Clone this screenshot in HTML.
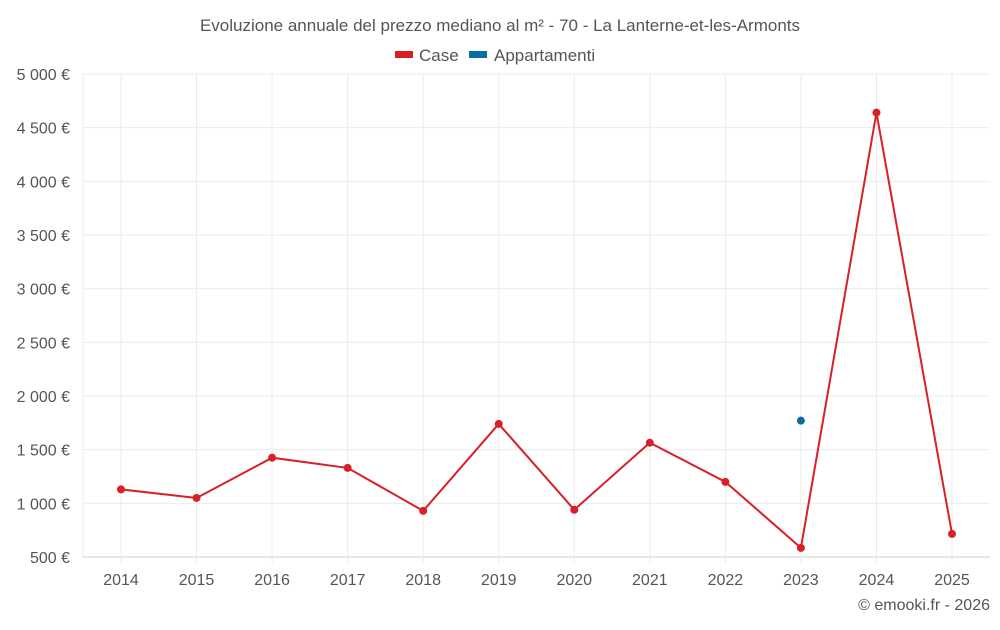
<!DOCTYPE html>
<html><head><meta charset="utf-8"><style>
body{margin:0;background:#fff;font-family:"Liberation Sans",sans-serif;}
svg text{font-family:"Liberation Sans",sans-serif;fill:#555;}
</style></head><body>
<svg id="c" width="1000" height="625">
<text x="500" y="31" text-anchor="middle" font-size="17">Evoluzione annuale del prezzo mediano al m² - 70 - La Lanterne-et-les-Armonts</text>
<g><rect x="395" y="51" width="18" height="7" fill="#d92027"/><text x="419" y="61" font-size="17">Case</text></g>
<g><rect x="469" y="51" width="18" height="7" fill="#0b6ba3"/><text x="494" y="61" font-size="17">Appartamenti</text></g>
<g id="grid"></g><g id="marks"></g>
<text x="990" y="610" text-anchor="end" font-size="16">© emooki.fr - 2026</text>
</svg>
<script>
const years=["2014","2015","2016","2017","2018","2019","2020","2021","2022","2023","2024","2025"];
const caseVals=[1130,1050,1425,1330,930,1740,940,1565,1200,585,4640,715];
const appVals=[null,null,null,null,null,null,null,null,null,1770,null,null];
const yTicks=[500,1000,1500,2000,2500,3000,3500,4000,4500,5000];
const yLabels=["500 €","1 000 €","1 500 €","2 000 €","2 500 €","3 000 €","3 500 €","4 000 €","4 500 €","5 000 €"];
const NS="http://www.w3.org/2000/svg";
const L=83,R=990,T=74,B=557;
const x=i=>121+i*(952-121)/(years.length-1);
const y=v=>B-(v-500)/(4500)*(B-T);
const g=document.getElementById('grid'),m=document.getElementById('marks');
function mk(tag,a,p){const e=document.createElementNS(NS,tag);for(const k in a)e.setAttribute(k,a[k]);p.appendChild(e);return e;}
yTicks.forEach((v,i)=>{
 const l=mk('line',{x1:L,x2:R,y1:y(v),y2:y(v),stroke:i==0?'#ccc':'#ebebeb'},g);
 
 
 const t=mk('text',{x:70,y:y(v)+6,'text-anchor':'end','font-size':16},g);t.textContent=yLabels[i];
 
 
});
mk('line',{x1:L,x2:L,y1:T,y2:B,stroke:'#ebebeb'},g);
years.forEach((yr,i)=>{
 const l=mk('line',{x1:x(i),x2:x(i),y1:T,y2:B+6,stroke:'#ebebeb'},g);
 
 
 const t=mk('text',{x:x(i),y:585,'text-anchor':'middle','font-size':16},g);t.textContent=yr;
 
 
});
const pl=mk('polyline',{points:caseVals.map((v,i)=>x(i)+','+y(v)).join(' '),fill:'none',stroke:'#d92027','stroke-width':2},m);


caseVals.forEach((v,i)=>{const c=mk('circle',{cx:x(i),cy:y(v),r:4,fill:'#d92027'},m);
 
 });
appVals.forEach((v,i)=>{if(v==null)return;const c=mk('circle',{cx:x(i),cy:y(v),r:4,fill:'#0b6ba3'},m);
 
 });
</script>
</body></html>
